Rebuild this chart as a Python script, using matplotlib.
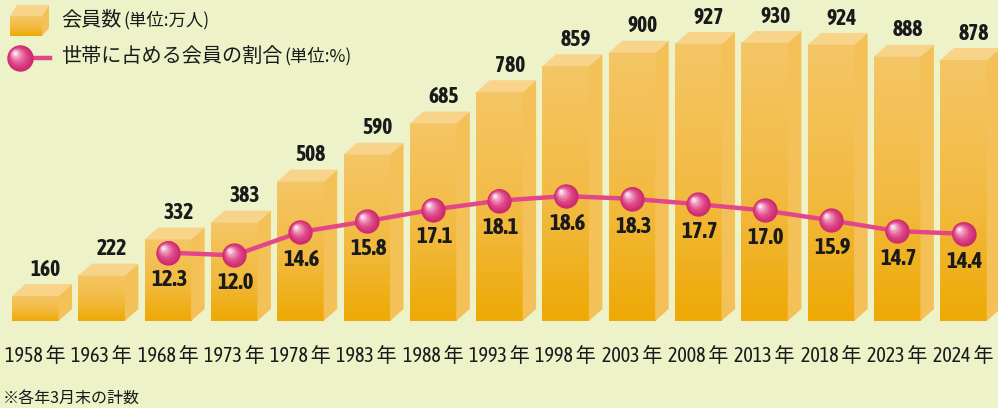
import numpy as np
import matplotlib
matplotlib.use("Agg")
import matplotlib.pyplot as plt
from matplotlib import font_manager as fm
from matplotlib.patches import Polygon
from matplotlib.colors import LinearSegmentedColormap
from matplotlib.transforms import offset_copy

# --- data ---
years = ["1958", "1963", "1968", "1973", "1978", "1983", "1988", "1993",
         "1998", "2003", "2008", "2013", "2018", "2023", "2024"]
members = [160, 222, 332, 383, 508, 590, 685, 780, 859, 900, 927, 930, 924, 888, 878]
share_start = 2  # share series starts at 1968
share = [12.3, 12.0, 14.6, 15.8, 17.1, 18.1, 18.6, 18.3, 17.7, 17.0, 15.9, 14.7, 14.4]

legend_bar = "会員数"
legend_bar_unit = "(単位:万人)"
legend_line = "世帯に占める会員の割合"
legend_line_unit = "(単位:%)"
footnote = "※各年3月末の計数"

# --- fonts: look for a narrow face (preferably with a bold cut) for numbers ---
def _is_narrow(f):
    return ("Narrow" in f.name or "Condensed" in f.name
            or str(f.stretch) in ("condensed", "semi-condensed"))

def _is_bold(f):
    return f.weight in (600, 700, 800, "bold", "semibold", "demibold", "heavy")

fonts = fm.fontManager.ttflist
narrow_all = [f for f in fonts if _is_narrow(f)]
narrow_bold = [f for f in narrow_all if _is_bold(f)]
pick = (sorted(narrow_bold, key=lambda f: f.name) or sorted(narrow_all, key=lambda f: f.name) or [None])[0]
if pick is not None:
    NUM_NAME = pick.name
    NUM_STRETCH = "condensed" if str(pick.stretch) in ("condensed", "semi-condensed") else "normal"
    scale = 1.0
else:
    NUM_NAME, NUM_STRETCH, scale = "Liberation Sans", "normal", 0.86
NUM_FONT = [NUM_NAME, "Noto Sans CJK JP", "DejaVu Sans"]
JP_FONT = ["Noto Sans CJK JP", "DejaVu Sans"]

# --- style ---
BG = "#EDF2C9"
TOP_C = "#F8D38A"
SIDE_C = "#F4C159"
front_cmap = LinearSegmentedColormap.from_list(
    "front", [(0, "#EEA904"), (0.45, "#F2BA40"), (1, "#F5C666")])
ball_cmap = LinearSegmentedColormap.from_list(
    "ball", [(0, "#CC2A6C"), (0.35, "#E04C8B"), (0.75, "#F09CC0"), (1, "#FCE6EF")])
LINE_C = "#E2478A"
TXT = "#1a1a1a"

BASE = 84          # value at the bottom of the bars
BAR_W = 0.70
DX, DY = 0.204, 36.5  # depth of the 3D boxes in data units

fig = plt.figure(figsize=(9.98, 4.08), dpi=100, facecolor=BG)
ax = fig.add_axes([0, 87 / 408, 1, 321 / 408])
ax.set_facecolor("none")
x = np.arange(len(years))


def draw_ball(axis, xs, ys, size, z):
    n = 16
    for k in range(n):
        t = k / (n - 1)
        off = size * 0.2 * t
        tr = offset_copy(axis.transData, fig=fig, x=-off, y=off, units="points")
        axis.plot(xs, ys, "o", ls="none", ms=size * (1 - 0.88 * t),
                  color=ball_cmap(t ** 1.2), mec="none", transform=tr,
                  zorder=z + k * 0.01, clip_on=False)


# bars: front gradient + side + top
grad = np.linspace(0, 1, 256).reshape(-1, 1)
for xi, v in zip(x, members):
    x0, x1 = xi - BAR_W / 2, xi + BAR_W / 2
    ax.imshow(grad, extent=[x0, x1, BASE, v], origin="lower", aspect="auto",
              cmap=front_cmap, zorder=2)
    ax.add_patch(Polygon([(x1, BASE), (x1, v), (x1 + DX, v + DY), (x1 + DX, BASE + DY)],
                         closed=True, fc=SIDE_C, ec="none", zorder=2))
    ax.add_patch(Polygon([(x0, v), (x1, v), (x1 + DX, v + DY), (x0 + DX, v + DY)],
                         closed=True, fc=TOP_C, ec="none", zorder=2))
    ax.annotate(str(v), (xi, v), xytext=(7.5, 19), textcoords="offset points",
                ha="center", va="center", fontsize=15.5 * scale, fontweight="bold",
                family=NUM_FONT, fontstretch=NUM_STRETCH, color=TXT, zorder=5)

ax.set_xlim(-0.532, 14.52)
ax.set_ylim(BASE, 1060.6)
for s in ax.spines.values():
    s.set_visible(False)
ax.set_yticks([])
ax.set_xticks(x, labels=[f"{y} 年" for y in years])
ax.tick_params(axis="x", length=0, pad=18, labelsize=14.5 * scale, labelcolor=TXT)
for lab in ax.get_xticklabels():
    lab.set_family(NUM_FONT)
    lab.set_fontstretch(NUM_STRETCH)

# line on twin axes
ax2 = fig.add_axes(ax.get_position(), sharex=ax)
ax2.set_facecolor("none")
ax2.axis("off")
ax2.set_ylim(4.68, 40.46)
xs = x[share_start:]
ax2.plot(xs, share, color=LINE_C, lw=3.2, zorder=3, solid_capstyle="round")
draw_ball(ax2, xs, share, 17.5, 4)
for xi, v in zip(xs, share):
    ax2.annotate(f"{v:.1f}", (xi, v), xytext=(1, -20), textcoords="offset points",
                 ha="center", va="center", fontsize=16.5 * scale, fontweight="bold",
                 family=NUM_FONT, fontstretch=NUM_STRETCH, color=TXT, zorder=6)

# legend (pixel overlay)
lg = fig.add_axes([0, 0, 1, 1])
lg.axis("off")
lg.set_facecolor("none")
lg.imshow(grad, extent=[10, 42, 36, 16], origin="lower", aspect="auto",
          cmap=front_cmap, zorder=2)
lg.add_patch(Polygon([(42, 16), (49, 5), (49, 28), (42, 36)], fc=SIDE_C, ec="none", zorder=2))
lg.add_patch(Polygon([(10, 16), (42, 16), (49, 5), (17, 5)], fc=TOP_C, ec="none", zorder=2))
lg.plot([20, 50], [58, 58], color=LINE_C, lw=3.2, zorder=3)
draw_ball(lg, [20], [58], 19, 4)
lg.set_xlim(0, 998)
lg.set_ylim(408, 0)

t1 = lg.text(61, 20, legend_bar, fontsize=14.5, family=JP_FONT, va="center", color=TXT)
lg.annotate(legend_bar_unit, (1, 0.5), xycoords=t1, xytext=(1.5, 0), textcoords="offset points",
            fontsize=12.5, family=JP_FONT, va="center", color=TXT)
t2 = lg.text(61, 56, legend_line, fontsize=14.5, family=JP_FONT, va="center", color=TXT)
lg.annotate(legend_line_unit, (1, 0.5), xycoords=t2, xytext=(1.5, 0), textcoords="offset points",
            fontsize=12.5, family=JP_FONT, va="center", color=TXT)

lg.text(3, 399, footnote, fontsize=11.5, family=JP_FONT, va="center", color=TXT)

fig.savefig("out.png", dpi=100, facecolor=BG)
